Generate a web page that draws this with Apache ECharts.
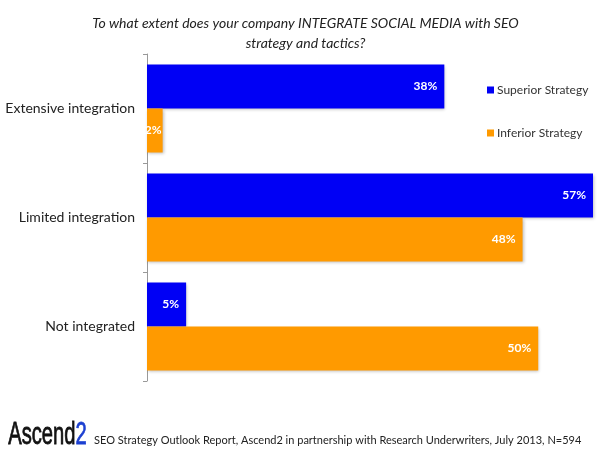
<!DOCTYPE html>
<html><head><meta charset="utf-8">
<script src="https://cdn.jsdelivr.net/npm/echarts@6/dist/echarts.min.js"></script>
<style>html,body{margin:0;padding:0;background:#fff}#c{width:611px;height:451px}</style>
</head><body><div id="c"></div>
<script>
const categories = ["Extensive integration", "Limited integration", "Not integrated"];
const superiorValues = [38, 57, 5];
const inferiorValues = [2, 48, 50];
const seriesNames = ["Superior Strategy", "Inferior Strategy"];
const titleText = "To what extent does your company INTEGRATE SOCIAL MEDIA with SEO\nstrategy and tactics?";
const sourceText = "SEO Strategy Outlook Report, Ascend2 in partnership with Research Underwriters, July 2013, N=594";

const chart = echarts.init(document.getElementById('c'));
const FONT = 'Lato, "Open Sans", sans-serif';
const labelCfg = {
  show: true, position: 'insideRight', distance: 7,
  color: '#fff', fontWeight: 'bold', fontSize: 12, fontFamily: FONT,
  formatter: p => p.value + '%'
};
const inferiorData = inferiorValues.map(v => v < 4 ? { value: v, label: { distance: 1 } } : v);
chart.setOption({
  animation: false,
  title: [{
    text: titleText, left: 'center', top: 8,
    textStyle: { fontFamily: FONT, fontStyle: 'italic', fontWeight: 'normal', fontSize: 14, color: '#222', lineHeight: 20 }
  }, {
    text: sourceText, left: 89, top: 430,
    textStyle: { fontFamily: FONT, fontWeight: 'normal', fontSize: 11, color: '#222' }
  }],
  graphic: [{
    type: 'text', left: 8, top: 420, scaleX: 0.65,
    style: {
      text: '{a|Ascend}{b|2}',
      rich: {
        a: { fontFamily: '"Liberation Sans", sans-serif', fontSize: 31, fill: '#111', stroke: '#111', lineWidth: 0.8 },
        b: { fontFamily: '"Liberation Sans", sans-serif', fontSize: 31, fill: '#1b3fd1', stroke: '#1b3fd1', lineWidth: 0.8 }
      }
    }
  }],
  legend: {
    orient: 'vertical', left: 482, top: 79, itemGap: 31,
    itemWidth: 7, itemHeight: 7, icon: 'rect',
    textStyle: { fontFamily: FONT, fontSize: 12, color: '#333', padding: [0, 0, 0, -2] },
    data: seriesNames
  },
  grid: { left: 147, right: 18, top: 54, bottom: 70, containLabel: false },
  xAxis: { type: 'value', min: 0, max: 57, show: false },
  yAxis: {
    type: 'category', data: categories, inverse: true,
    axisLine: { lineStyle: { color: '#999' } },
    axisTick: { show: true, length: 4, lineStyle: { color: '#999' } },
    axisLabel: { fontFamily: FONT, fontSize: 14, color: '#222', margin: 12 }
  },
  series: [{
    name: seriesNames[0], type: 'bar', data: superiorValues,
    barWidth: 44, barGap: '0%',
    itemStyle: { color: '#0000f5', shadowColor: 'rgba(0,0,0,0.25)', shadowBlur: 3, shadowOffsetX: 1, shadowOffsetY: 1 },
    label: labelCfg
  }, {
    name: seriesNames[1], type: 'bar', data: inferiorData,
    barWidth: 44, barGap: '0%',
    itemStyle: { color: '#ff9a00', shadowColor: 'rgba(0,0,0,0.25)', shadowBlur: 3, shadowOffsetX: 1, shadowOffsetY: 1 },
    label: labelCfg
  }]
});
</script></body></html>
